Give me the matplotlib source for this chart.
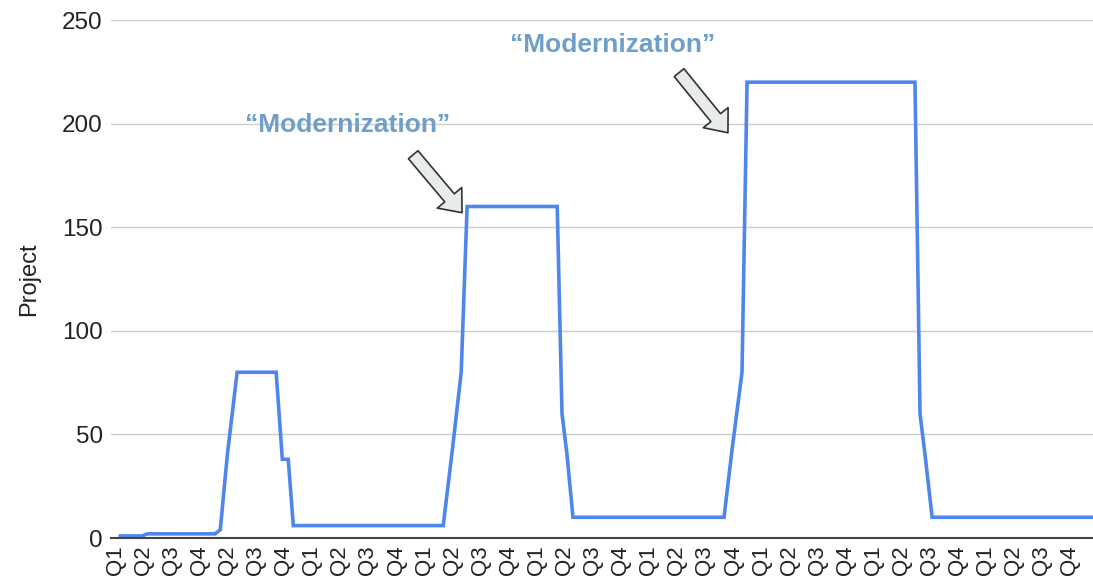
import matplotlib.pyplot as plt

plt.rcParams['font.family'] = ['Liberation Sans', 'DejaVu Sans']

# Quarter labels along the x axis (one per tick)
quarter_labels = ['Q1', 'Q2', 'Q3', 'Q4'] + ['Q2', 'Q3', 'Q4', 'Q1'] * 7 + ['Q2', 'Q3', 'Q4']

# Line points: position in quarter-tick units and project value
x_pos = [0.18, 0.96, 1.14, 3.56, 3.74, 3.99, 4.34, 5.73, 5.95, 6.16, 6.34,
         11.68, 12.00, 12.32, 12.53, 15.74, 15.91, 16.09, 16.30,
         21.68, 21.96, 22.32, 22.50, 28.48, 28.66, 28.84, 29.09, 34.82]
project = [1, 1, 2, 2, 4, 40, 80, 80, 38, 38, 6,
           6, 42, 80, 160, 160, 60, 40, 10,
           10, 42, 80, 220, 220, 60, 40, 10, 10]

# Annotations: text position, arrow tail, arrow tip
notes = [
    ('\u201cModernization\u201d', (8.26, 199.5), (10.61, 185), (12.35, 157)),
    ('\u201cModernization\u201d', (17.73, 238), (20.08, 224.6), (21.82, 195.6)),
]

fig = plt.figure(figsize=(10.93, 5.82), dpi=100)
ax = fig.add_axes([0.1016, 0.0756, 0.8984, 0.89])

ax.plot(x_pos, project, color='#4f86ec', linewidth=2.6, solid_joinstyle='miter')

ax.set_ylim(0, 250)
ax.set_xlim(-0.15, 34.82)
ax.set_yticks([0, 50, 100, 150, 200, 250])
ax.set_xticks(range(len(quarter_labels)))
ax.set_xticklabels(quarter_labels, rotation=90, fontsize=16)
ax.tick_params(axis='y', labelsize=17.5, length=0, pad=6, colors='#222222')
ax.tick_params(axis='x', length=0, pad=5, colors='#222222')

ax.grid(axis='y', color='#cccccc', linewidth=1)
ax.set_axisbelow(True)
for side in ['top', 'right', 'left']:
    ax.spines[side].set_visible(False)
ax.spines['bottom'].set_color('#444444')
ax.spines['bottom'].set_linewidth(1.5)

ax.set_ylabel('Project', fontsize=17, color='#222222', labelpad=16)

for text, txt_xy, tail, tip in notes:
    ax.text(txt_xy[0], txt_xy[1], text, fontsize=19, fontweight='bold',
            color='#6f9ec8', ha='center', va='center')
    ax.annotate('', xy=tip, xytext=tail,
                arrowprops=dict(arrowstyle='simple,head_length=14,head_width=23,tail_width=9',
                                mutation_scale=1, fc='#e8ebeb', ec='#333333', lw=1.2,
                                shrinkA=0, shrinkB=0))

plt.savefig('out.png', dpi=100)
